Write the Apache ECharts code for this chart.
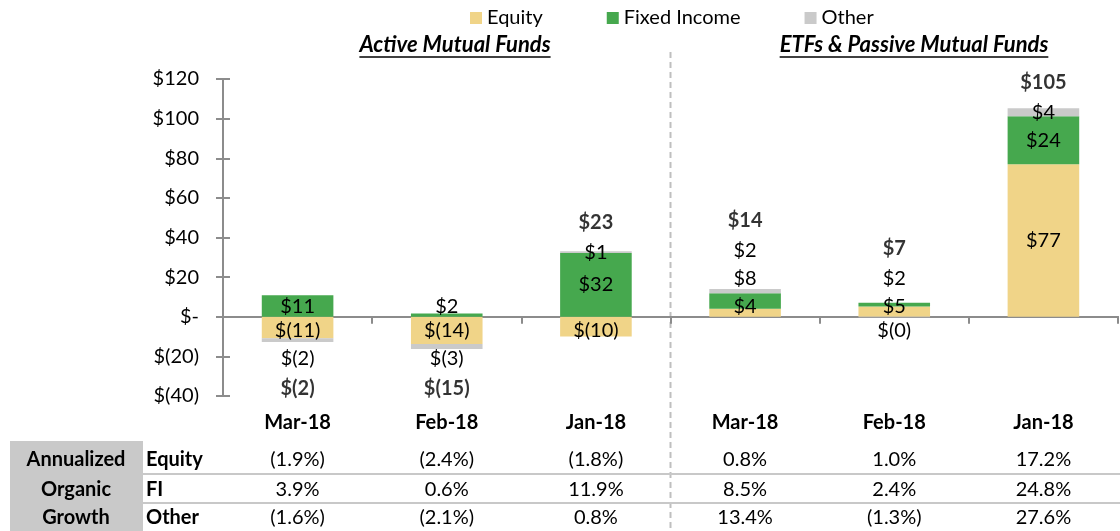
<!DOCTYPE html>
<html>
<head>
<meta charset="utf-8">
<script src="https://cdn.jsdelivr.net/npm/echarts@6/dist/echarts.min.js"></script>
<style>
html, body { margin: 0; padding: 0; background: #fff; }
#main { width: 1120px; height: 531px; }
</style>
</head>
<body>
<div id="main"></div>
<script>
// flows by month, $bn
var categories = ['Mar-18', 'Feb-18', 'Jan-18', 'Mar-18', 'Feb-18', 'Jan-18'];
var equity = [-10.9, -13.7, -10.0, 4.0, 5.2, 77.0];
var fixedIncome = [10.8, 1.6, 32.2, 7.8, 1.9, 24.2];
var other = [-1.9, -2.6, 0.9, 2.2, -0.2, 4.0];
var groupTitles = ['Active Mutual Funds', 'ETFs & Passive Mutual Funds'];

// annualized organic growth table
var rowTitle = ['Annualized', 'Organic', 'Growth'];
var rowNames = ['Equity', 'FI', 'Other'];
var growthEquity = ['(1.9%)', '(2.4%)', '(1.8%)', '0.8%', '1.0%', '17.2%'];
var growthFI = ['3.9%', '0.6%', '11.9%', '8.5%', '2.4%', '24.8%'];
var growthOther = ['(1.6%)', '(2.1%)', '0.8%', '13.4%', '(1.3%)', '27.6%'];

var FONT = 'Lato, "Noto Sans", sans-serif';
var EQ = '#F0D488', FI = '#46A84E', OT = '#CACACA', AX = '#8C8C8C';

var myChart = echarts.init(document.getElementById('main'));

var totals = [];
for (var i = 0; i < categories.length; i++) {
    totals.push(equity[i] + fixedIncome[i] + other[i]);
}

function money(v) {
    var r = Math.round(Math.abs(v));
    if (v < 0) return '$(' + r + ')';
    if (v === 0) return '$-';
    return '$' + r;
}

function textWidth(txt, font) {
    var ctx = document.createElement('canvas').getContext('2d');
    ctx.font = font;
    return ctx.measureText(txt).width;
}

var valueLabel = {
    show: true,
    position: 'inside',
    color: '#000',
    fontSize: 20,
    fontFamily: FONT,
    formatter: function (p) { return money(p.value); }
};

function yAxisCfg(inside, labels) {
    return {
        type: 'value',
        position: 'left',
        min: -40,
        max: 120,
        interval: 20,
        splitLine: { show: false },
        axisLine: { show: true, lineStyle: { color: AX, width: 2 } },
        axisTick: { show: true, inside: inside, length: 7, lineStyle: { color: AX, width: 2 } },
        axisLabel: {
            show: labels,
            margin: 24,
            fontSize: 20,
            color: '#000',
            fontFamily: FONT,
            formatter: money
        }
    };
}

function xAxisCfg(inside) {
    return {
        type: 'category',
        data: categories,
        axisLine: { show: true, onZero: true, lineStyle: { color: AX, width: 2 } },
        axisTick: { show: true, inside: inside, length: 7, lineStyle: { color: AX, width: 2 } },
        axisLabel: { show: false }
    };
}

var option = {
    animation: false,
    textStyle: { fontFamily: FONT },
    color: [EQ, FI, OT],
    legend: {
        data: ['Equity', 'Fixed Income', 'Other'],
        top: 3,
        left: 465,
        icon: 'rect',
        itemWidth: 12,
        itemHeight: 12,
        itemGap: 64,
        textStyle: { fontSize: 20, color: '#000', fontFamily: FONT }
    },
    grid: { left: 223, right: 2, top: 79, bottom: 135 },
    xAxis: [
        xAxisCfg(false),
        xAxisCfg(true),
        {
            type: 'category',
            data: categories,
            position: 'bottom',
            axisLine: { show: false, onZero: false },
            axisTick: { show: false },
            axisLabel: { margin: 17, fontSize: 20, fontWeight: 'bold', color: '#000', fontFamily: FONT }
        }
    ],
    yAxis: [yAxisCfg(false, true), yAxisCfg(true, false)],
    series: [
        { name: 'Equity', type: 'bar', stack: 'flows', barWidth: '48%', data: equity, label: valueLabel },
        { name: 'Fixed Income', type: 'bar', stack: 'flows', barWidth: '48%', data: fixedIncome, label: valueLabel },
        { name: 'Other', type: 'bar', stack: 'flows', barWidth: '48%', data: other, label: valueLabel },
        {
            name: 'Total',
            type: 'scatter',
            symbolSize: 1,
            itemStyle: { color: 'rgba(0,0,0,0)' },
            data: totals,
            label: {
                show: true,
                position: 'inside',
                color: '#000',
                fontSize: 20,
                fontWeight: 'bold',
                fontFamily: FONT,
                formatter: function (p) { return money(p.value); }
            }
        }
    ]
};
myChart.setOption(option);

// move labels so they stack outwards from the bar without overlapping
function py(v) { return myChart.convertToPixel({ yAxisIndex: 0 }, v); }
function px(i) { return myChart.convertToPixel({ xAxisIndex: 0 }, i); }

var zero = py(0);
var GAP = 28;
var parts = [equity, fixedIncome, other];
var labelled = [[], [], []];
var totalData = [];
for (var i = 0; i < categories.length; i++) {
    var pos = 0, neg = 0, upY = null, downY = null;
    for (var k = 0; k < 3; k++) {
        var v = parts[k][i], c, t;
        if (v >= 0) {
            c = (py(pos) + py(pos + v)) / 2;
            pos += v;
            t = Math.min(c, zero - 10);
            if (upY !== null) t = Math.min(t, upY - GAP);
            upY = t;
        } else {
            c = (py(neg) + py(neg + v)) / 2;
            neg += v;
            t = Math.max(c, zero + 14);
            if (downY !== null) t = Math.max(t, downY + GAP);
            downY = t;
        }
        labelled[k].push({ value: v, label: { offset: [0, t - c] } });
    }
    var tv = totals[i], tt;
    if (tv >= 0) tt = (upY === null ? py(pos) : upY) - GAP - 2;
    else tt = (downY === null ? py(neg) : downY) + GAP + 2;
    totalData.push({ value: tv, label: { offset: [0, tt - py(tv)] } });
}

// titles, divider and growth table
var graphics = [];
var titleFont = 'italic bold 22px Lato';
var titleX = [455, 914];
groupTitles.forEach(function (t, j) {
    var w = textWidth(t, titleFont);
    graphics.push({
        type: 'text', x: titleX[j], y: 45,
        style: { text: t, font: titleFont, fill: '#000', align: 'center', verticalAlign: 'middle' }
    });
    graphics.push({
        type: 'line', shape: { x1: titleX[j] - w / 2, y1: 57, x2: titleX[j] + w / 2, y2: 57 },
        style: { stroke: '#000', lineWidth: 1.5 }
    });
});

var divX = (px(2) + px(3)) / 2;
graphics.push({
    type: 'line', shape: { x1: divX, y1: 52, x2: divX, y2: 531 },
    style: { stroke: '#BFBFBF', lineWidth: 2, lineDash: [6, 4] }, z: 0
});

graphics.push({
    type: 'rect', shape: { x: 10, y: 441, width: 133, height: 90 },
    style: { fill: '#C9C9C9' }
});
var rowY = [460, 490, 518];
[474, 503].forEach(function (y) {
    graphics.push({
        type: 'line', shape: { x1: 143, y1: y, x2: 1120, y2: y },
        style: { stroke: '#C8C8C8', lineWidth: 2 }
    });
});
var rows = [growthEquity, growthFI, growthOther];
for (var r = 0; r < 3; r++) {
    graphics.push({
        type: 'text', x: 76, y: rowY[r],
        style: { text: rowTitle[r], font: 'bold 20px Lato', fill: '#000', align: 'center', verticalAlign: 'middle' }
    });
    graphics.push({
        type: 'text', x: 146, y: rowY[r],
        style: { text: rowNames[r], font: 'bold 20px Lato', fill: '#000', align: 'left', verticalAlign: 'middle' }
    });
    for (var c2 = 0; c2 < categories.length; c2++) {
        graphics.push({
            type: 'text', x: px(c2), y: rowY[r],
            style: { text: rows[r][c2], font: '20px Lato', fill: '#000', align: 'center', verticalAlign: 'middle' }
        });
    }
}

myChart.setOption({
    series: [
        { data: labelled[0] },
        { data: labelled[1] },
        { data: labelled[2] },
        { data: totalData }
    ],
    graphic: graphics
});
</script>
</body>
</html>
